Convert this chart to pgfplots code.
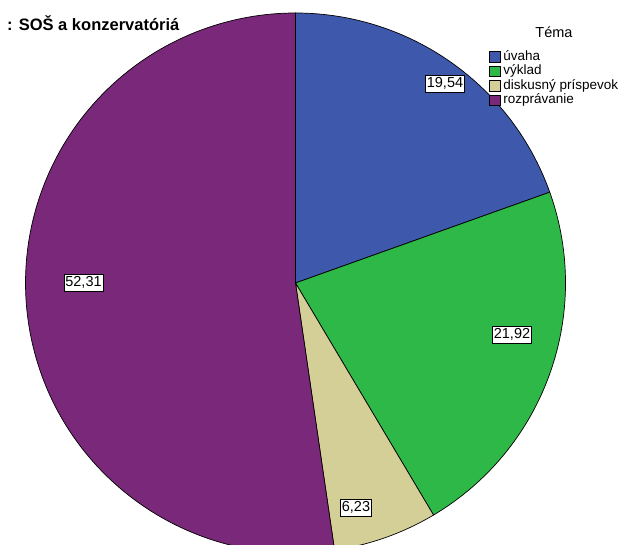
\documentclass[border=0pt]{standalone}
\usepackage{fontspec}
\setmainfont{Liberation Sans}
\usepackage{pgfplots}
\pgfplotsset{compat=1.18}
\definecolor{cA}{HTML}{3E58AC}
\definecolor{cB}{HTML}{2EB848}
\definecolor{cC}{HTML}{D4CE97}
\definecolor{cD}{HTML}{7A287A}
\begin{document}
\begin{tikzpicture}
% data (percent)
\def\vA{19.54}\def\vB{21.92}\def\vC{6.23}\def\vD{52.31}
\pgfmathsetmacro{\tot}{\vA+\vB+\vC+\vD}
\pgfmathsetmacro{\aA}{90}
\pgfmathsetmacro{\aB}{\aA-\vA/\tot*360}
\pgfmathsetmacro{\aC}{\aB-\vB/\tot*360}
\pgfmathsetmacro{\aD}{\aC-\vC/\tot*360}
\pgfmathsetmacro{\aE}{\aD-\vD/\tot*360}
\begin{axis}[
  scale only axis, width=621pt, height=545pt,
  xmin=0, xmax=621, ymin=0, ymax=545,
  hide axis, clip=true,
  legend image code/.code={\draw[#1] (0pt,-5pt) rectangle (11pt,5.5pt);},
  legend cell align=left,
  legend style={at={(axis cs:489,494)}, anchor=north west, draw=none, fill=none,
    inner sep=0pt, row sep=2.5pt, font=\fontsize{13.5}{15}\selectfont,
    nodes={inner sep=0pt, text height=9pt, text depth=3pt},
    /tikz/every even column/.style={column sep=4pt}},
]
\addlegendimage{fill=cA, draw=black, line width=0.6pt}
\addlegendentry{\hspace{2.5pt}úvaha}
\addlegendimage{fill=cB, draw=black, line width=0.6pt}
\addlegendentry{\hspace{2.5pt}výklad}
\addlegendimage{fill=cC, draw=black, line width=0.6pt}
\addlegendentry{\hspace{2.5pt}diskusný príspevok}
\addlegendimage{fill=cD, draw=black, line width=0.6pt}
\addlegendentry{\hspace{2.5pt}rozprávanie}
\filldraw[fill=cA, draw=black, line width=0.7pt] (axis cs:295.5,262) -- ++(\aA:270pt) arc[start angle=\aA, end angle=\aB, radius=270pt] -- cycle;
\filldraw[fill=cB, draw=black, line width=0.7pt] (axis cs:295.5,262) -- ++(\aB:270pt) arc[start angle=\aB, end angle=\aC, radius=270pt] -- cycle;
\filldraw[fill=cC, draw=black, line width=0.7pt] (axis cs:295.5,262) -- ++(\aC:270pt) arc[start angle=\aC, end angle=\aD, radius=270pt] -- cycle;
\filldraw[fill=cD, draw=black, line width=0.7pt] (axis cs:295.5,262) -- ++(\aD:270pt) arc[start angle=\aD, end angle=\aE, radius=270pt] -- cycle;
\tikzset{lab/.style={draw=black, fill=white, line width=0.6pt, inner xsep=1.5pt, inner ysep=2pt,
  text height=10.5pt, text depth=2.5pt, font=\fontsize{14.5}{16}\selectfont}}
\node[lab] at (axis cs:445,461.5) {19,54};
\node[lab] at (axis cs:512,210.5) {21,92};
\node[lab] at (axis cs:356,37.5) {6,23};
\node[lab] at (axis cs:83.5,262) {52,31};
\node[anchor=west, inner sep=0pt, font=\bfseries\fontsize{16.5}{18}\selectfont] at (axis cs:7,522) {: SOŠ a konzervatóriá};
\node[inner sep=0pt, font=\fontsize{14.5}{16}\selectfont] at (axis cs:554,513) {Téma};
\end{axis}
\pgfresetboundingbox
\path[use as bounding box] (0,0) rectangle (621pt,545pt);
\end{tikzpicture}
\end{document}
